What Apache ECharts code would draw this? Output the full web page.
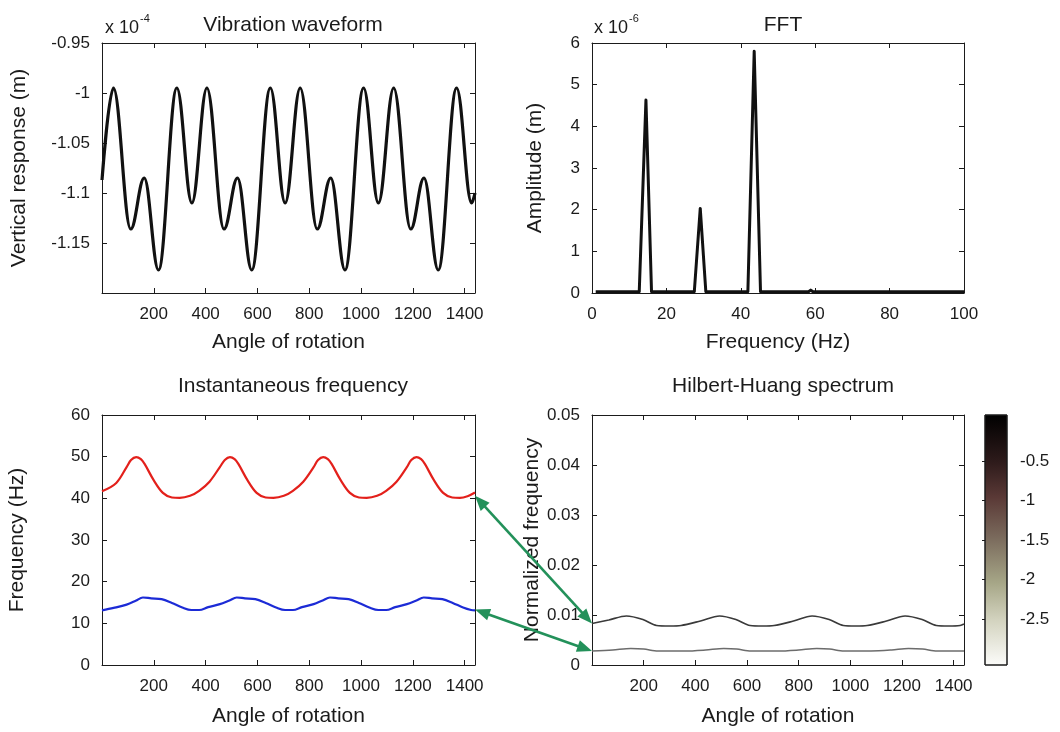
<!DOCTYPE html>
<html><head><meta charset="utf-8">
<script src="https://cdn.jsdelivr.net/npm/echarts@6/dist/echarts.min.js"></script>
<style>html,body{margin:0;padding:0;background:#fff}#chart{width:1060px;height:732px}</style>
</head><body><div id="chart"></div>
<script>
// ---------------- data ----------------
const angleTickLabels = [200, 400, 600, 800, 1000, 1200, 1400];

// Vibration waveform (x 1e-4 m) – extrema
const waveAngle = [0, 44, 111, 163, 218, 289, 347, 405, 471, 523, 578, 650, 707, 765, 831, 883, 938, 1010, 1067, 1126, 1192, 1243, 1298, 1369, 1427, 1440];
const waveResp  = [-1.087, -0.995, -1.136, -1.085, -1.177, -0.995, -1.110, -0.995, -1.136, -1.085, -1.177, -0.995, -1.110, -0.995, -1.136, -1.085, -1.177, -0.995, -1.110, -0.995, -1.136, -1.085, -1.177, -0.995, -1.110, -1.100];

// FFT (x 1e-6 m)
const fftFreq = [1, 12.7, 14.5, 16.0, 27.5, 29.1, 30.6, 41.9, 43.6, 45.3, 58.2, 58.8, 59.4, 72.5, 73.0, 73.5, 87.0, 87.5, 88.0, 100];
const fftAmp  = [0.03, 0.03, 4.63, 0.03, 0.03, 2.03, 0.03, 0.03, 5.80, 0.03, 0.03, 0.07, 0.03, 0.03, 0.05, 0.03, 0.03, 0.05, 0.03, 0.03];

// Instantaneous frequency (Hz)
const ifHighAngle = [0, 55, 95, 112, 132, 150, 165, 200, 235, 270, 300, 340, 375, 415, 455, 474, 494, 512, 527, 562, 597, 632, 662, 702, 737, 777, 817, 834, 854, 872, 887, 922, 957, 992, 1022, 1062, 1097, 1137, 1177, 1194, 1214, 1232, 1247, 1282, 1317, 1352, 1382, 1411, 1440];
const ifHigh      = [41.7, 43.7, 47.5, 49.2, 49.9, 49.4, 48.2, 44.3, 41.3, 40.2, 40.1, 40.6, 41.8, 44.0, 47.5, 49.2, 49.9, 49.4, 48.2, 44.3, 41.3, 40.2, 40.1, 40.6, 41.8, 44.0, 47.5, 49.2, 49.9, 49.4, 48.2, 44.3, 41.3, 40.2, 40.1, 40.6, 41.8, 44.0, 47.5, 49.2, 49.9, 49.4, 48.2, 44.3, 41.3, 40.2, 40.1, 40.5, 41.4];
const ifLowAngle  = [0, 45, 95, 130, 158, 190, 230, 270, 310, 345, 375, 410, 455, 492, 520, 552, 592, 632, 672, 707, 737, 772, 817, 852, 880, 912, 952, 992, 1032, 1067, 1097, 1132, 1177, 1214, 1242, 1274, 1314, 1354, 1394, 1425, 1440];
const ifLow       = [13.1, 13.7, 14.5, 15.4, 16.2, 16.0, 15.8, 14.9, 13.8, 13.2, 13.2, 13.9, 14.6, 15.5, 16.2, 16.0, 15.8, 14.9, 13.8, 13.2, 13.2, 13.9, 14.6, 15.5, 16.2, 16.0, 15.8, 14.9, 13.8, 13.2, 13.2, 13.9, 14.6, 15.5, 16.2, 16.0, 15.8, 14.9, 13.8, 13.2, 13.1];

// Hilbert-Huang spectrum ridges (normalized frequency)
const hhsHighAngle = [0, 65, 133, 197, 250, 300, 345, 420, 494, 557, 612, 660, 705, 780, 852, 918, 973, 1020, 1065, 1140, 1212, 1278, 1333, 1380, 1425, 1440];
const hhsHigh      = [0.0083, 0.0090, 0.0098, 0.0091, 0.0079, 0.0078, 0.0079, 0.0088, 0.0098, 0.0091, 0.0079, 0.0078, 0.0079, 0.0088, 0.0098, 0.0091, 0.0079, 0.0078, 0.0079, 0.0088, 0.0098, 0.0091, 0.0079, 0.0078, 0.0079, 0.0082];
const hhsLowAngle  = [0, 80, 150, 200, 255, 360, 440, 510, 560, 615, 720, 800, 870, 920, 975, 1080, 1160, 1225, 1280, 1335, 1440];
const hhsLow       = [0.0028, 0.0030, 0.0033, 0.0032, 0.0028, 0.0028, 0.0030, 0.0033, 0.0032, 0.0028, 0.0028, 0.0030, 0.0033, 0.0032, 0.0028, 0.0028, 0.0030, 0.0033, 0.0032, 0.0028, 0.0028];

// Colorbar
const colorbarTicks = [-0.5, -1, -1.5, -2, -2.5];
const colorbarRange = [-3.08, 0.08];

// Arrow anchors: [angle, value] in the instantaneous-frequency plot -> [angle, value] in the HHS plot
const arrowFrom = [[1440, 40.6], [1440, 13.3]];
const arrowTo   = [[0, 0.0083], [0, 0.0028]];

// ---------------- styling ----------------
const FONT = 'Liberation Sans';
const INK = '#1b1b1b';
const TICK_FS = 17, NAME_FS = 21;
const GREEN = '#23915a';

const zip = (a, b) => a.map((v, i) => [v, b[i]]);
const near = (v, list) => list.some(t => Math.abs(t - v) < 1e-9);

function axisBase(extra) {
  return Object.assign({
    type: 'value',
    axisLine: { show: true, onZero: false, lineStyle: { color: INK, width: 1 } },
    axisTick: { show: true, inside: true, length: 5, lineStyle: { color: INK } },
    splitLine: { show: false },
    nameTextStyle: { fontFamily: FONT, fontSize: NAME_FS, color: INK },
  }, extra);
}
function xPair(grid, min, max, interval, fmt, name, nameGap) {
  return [
    axisBase({ gridIndex: grid, position: 'bottom', min, max, interval, name, nameLocation: 'middle', nameGap,
      axisLabel: { show: true, margin: 13, color: INK, fontFamily: FONT, fontSize: TICK_FS, formatter: fmt, showMinLabel: true, showMaxLabel: true } }),
    axisBase({ gridIndex: grid, position: 'top', min, max, interval, axisLabel: { show: false } })
  ];
}
function yPair(grid, min, max, interval, fmt, name, nameGap) {
  return [
    axisBase({ gridIndex: grid, position: 'left', min, max, interval, name, nameLocation: 'middle', nameGap,
      axisLabel: { show: true, margin: 12, color: INK, fontFamily: FONT, fontSize: TICK_FS, formatter: fmt, showMinLabel: true, showMaxLabel: true } }),
    axisBase({ gridIndex: grid, position: 'right', min, max, interval, axisLabel: { show: false } })
  ];
}
const angleFmt = v => near(v, angleTickLabels) ? String(v) : '';
const waveYFmt = v => (v < -1.19 ? '' : String(+v.toFixed(2)));
const plainFmt = v => String(+v.toFixed(2));

const titleStyle = { fontFamily: FONT, fontSize: NAME_FS, fontWeight: 'normal', color: INK };
const expRich = {
  a: { fontFamily: FONT, fontSize: 18, fontWeight: 'normal', color: INK, lineHeight: 24, verticalAlign: 'bottom' },
  b: { fontFamily: FONT, fontSize: 11, fontWeight: 'normal', color: INK, lineHeight: 24, verticalAlign: 'top', padding: [0, 0, 0, 1] }
};

const cbGradient = new echarts.graphic.LinearGradient(0, 0, 0, 1, [
  { offset: 0.0, color: '#000000' },
  { offset: 0.19, color: '#2e1b1b' },
  { offset: 0.33, color: '#5a3936' },
  { offset: 0.49, color: '#7a6a5c' },
  { offset: 0.67, color: '#a6a687' },
  { offset: 0.82, color: '#d3d3bf' },
  { offset: 1.0, color: '#fcfcfa' }
]);

const xAxes = [].concat(
  xPair(0, 0, 1440, 200, angleFmt, 'Angle of rotation', 39),
  xPair(1, 0, 100, 20, plainFmt, 'Frequency (Hz)', 39),
  xPair(2, 0, 1440, 200, angleFmt, 'Angle of rotation', 41),
  xPair(3, 0, 1440, 200, angleFmt, 'Angle of rotation', 41),
  [{ type: 'value', gridIndex: 4, min: 0, max: 1, show: false }]
);
const yAxes = [].concat(
  yPair(0, -1.2, -0.95, 0.05, waveYFmt, 'Vertical response (m)', 72),
  yPair(1, 0, 6, 1, plainFmt, 'Amplitude (m)', 46),
  yPair(2, 0, 60, 10, plainFmt, 'Frequency (Hz)', 74),
  yPair(3, 0, 0.05, 0.01, plainFmt, 'Normalized frequency', 44),
  [
    { type: 'value', gridIndex: 4, position: 'right', min: colorbarRange[0], max: colorbarRange[1],
      axisLine: { show: false }, splitLine: { show: false },
      axisTick: { show: true, inside: true, length: 3, lineStyle: { color: INK }, customValues: colorbarTicks },
      axisLabel: { show: true, margin: 13, color: INK, fontFamily: FONT, fontSize: TICK_FS, customValues: colorbarTicks, formatter: v => String(v) } },
    { type: 'value', gridIndex: 4, position: 'left', min: colorbarRange[0], max: colorbarRange[1],
      axisLine: { show: false }, splitLine: { show: false },
      axisTick: { show: true, inside: true, length: 3, lineStyle: { color: INK }, customValues: colorbarTicks },
      axisLabel: { show: false } }
  ]
);

const option = {
  animation: false,
  backgroundColor: '#ffffff',
  title: [
    { text: 'Vibration waveform', left: 288, top: 10, textAlign: 'center', textStyle: titleStyle },
    { text: '{a|x 10}{b|-4}', left: 100, top: 8, textStyle: { fontWeight: 'normal', rich: expRich } },
    { text: 'FFT', left: 778, top: 10, textAlign: 'center', textStyle: titleStyle },
    { text: '{a|x 10}{b|-6}', left: 589, top: 8, textStyle: { fontWeight: 'normal', rich: expRich } },
    { text: 'Instantaneous frequency', left: 288, top: 371, textAlign: 'center', textStyle: titleStyle },
    { text: 'Hilbert-Huang spectrum', left: 778, top: 371, textAlign: 'center', textStyle: titleStyle }
  ],
  grid: [
    { left: 102, top: 43, width: 373, height: 250 },
    { left: 592, top: 43, width: 372, height: 250 },
    { left: 102, top: 415, width: 373, height: 250 },
    { left: 592, top: 415, width: 372, height: 250 },
    { left: 985, top: 415, width: 22, height: 250 }
  ],
  xAxis: xAxes,
  yAxis: yAxes,
  series: [
    { type: 'line', name: 'waveform', xAxisIndex: 0, yAxisIndex: 0, data: zip(waveAngle, waveResp),
      showSymbol: false, smooth: 0.38, smoothMonotone: 'x', lineStyle: { color: '#111', width: 3.2 }, silent: true },
    { type: 'line', name: 'fft', xAxisIndex: 2, yAxisIndex: 2, data: zip(fftFreq, fftAmp),
      showSymbol: false, lineStyle: { color: '#111', width: 3, join: 'round' }, silent: true },
    { type: 'line', name: 'ifHigh', xAxisIndex: 4, yAxisIndex: 4, data: zip(ifHighAngle, ifHigh),
      showSymbol: false, smooth: 0.35, lineStyle: { color: '#e3201b', width: 2.2 }, silent: true },
    { type: 'line', name: 'ifLow', xAxisIndex: 4, yAxisIndex: 4, data: zip(ifLowAngle, ifLow),
      showSymbol: false, smooth: 0.35, lineStyle: { color: '#1c2bd6', width: 2.2 }, silent: true },
    { type: 'line', name: 'hhsHigh', xAxisIndex: 6, yAxisIndex: 6, data: zip(hhsHighAngle, hhsHigh),
      showSymbol: false, smooth: 0.3, lineStyle: { color: '#3a3a3a', width: 1.7 }, silent: true },
    { type: 'line', name: 'hhsLow', xAxisIndex: 6, yAxisIndex: 6, data: zip(hhsLowAngle, hhsLow),
      showSymbol: false, smooth: 0.3, lineStyle: { color: '#6c6c6c', width: 1.5 }, silent: true },
    { type: 'custom', name: 'colorbar', xAxisIndex: 8, yAxisIndex: 8, silent: true,
      data: [[0, 1, colorbarRange[0], colorbarRange[1]]],
      encode: { x: [0, 1], y: [2, 3] },
      renderItem: (params, api) => {
        const a = api.coord([api.value(0), api.value(3)]);
        const b = api.coord([api.value(1), api.value(2)]);
        return { type: 'rect', shape: { x: a[0], y: a[1], width: b[0] - a[0], height: b[1] - a[1] },
          style: { fill: cbGradient, stroke: INK, lineWidth: 1 } };
      } }
  ]
};

const chart = echarts.init(document.getElementById('chart'), null, { renderer: 'canvas' });
chart.setOption(option);

// double-headed green arrows linking the two plots (anchored through the axes)
function arrowGraphics() {
  const els = [];
  const HEAD_L = 15, HEAD_W = 6;
  for (let i = 0; i < arrowFrom.length; i++) {
    const p0 = chart.convertToPixel({ seriesIndex: 2 }, arrowFrom[i]);
    const p1 = chart.convertToPixel({ seriesIndex: 4 }, arrowTo[i]);
    const dx = p1[0] - p0[0], dy = p1[1] - p0[1];
    const len = Math.sqrt(dx * dx + dy * dy);
    const ux = dx / len, uy = dy / len, nx = -uy, ny = ux;
    const head = (tip, dir) => {
      const bx = tip[0] + dir * ux * HEAD_L, by = tip[1] + dir * uy * HEAD_L;
      return [[tip[0], tip[1]], [bx + nx * HEAD_W, by + ny * HEAD_W], [bx - nx * HEAD_W, by - ny * HEAD_W]];
    };
    els.push({ type: 'line', silent: true, z: 100,
      shape: { x1: p0[0] + ux * (HEAD_L - 2), y1: p0[1] + uy * (HEAD_L - 2), x2: p1[0] - ux * (HEAD_L - 2), y2: p1[1] - uy * (HEAD_L - 2) },
      style: { stroke: GREEN, lineWidth: 2.6 } });
    els.push({ type: 'polygon', silent: true, z: 100, shape: { points: head(p0, 1) }, style: { fill: GREEN } });
    els.push({ type: 'polygon', silent: true, z: 100, shape: { points: head(p1, -1) }, style: { fill: GREEN } });
  }
  return els;
}
chart.setOption({ graphic: arrowGraphics() });
</script>
</body></html>
